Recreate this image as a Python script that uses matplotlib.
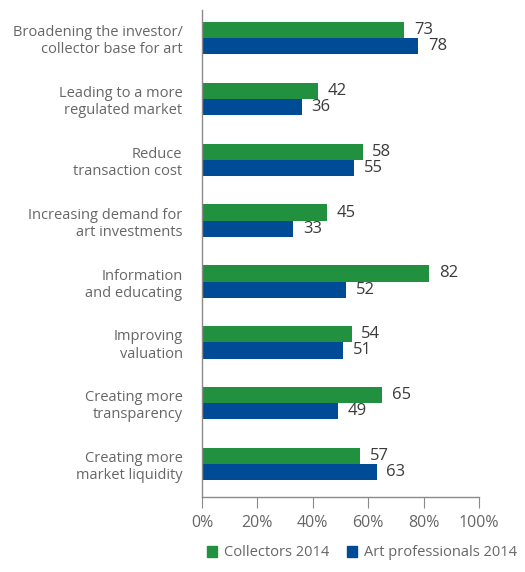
import numpy as np
import matplotlib
matplotlib.use("Agg")
import matplotlib.pyplot as plt
from matplotlib.patches import Patch

plt.rcParams.update({"font.family": ["Open Sans", "DejaVu Sans"], "font.size": 10.5})

categories = ["Broadening the investor/\ncollector base for art",
              "Leading to a more\nregulated market",
              "Reduce\ntransaction cost",
              "Increasing demand for\nart investments",
              "Information\nand educating",
              "Improving\nvaluation",
              "Creating more\ntransparency",
              "Creating more\nmarket liquidity"]
collectors = [73, 42, 58, 45, 82, 54, 65, 57]
professionals = [78, 36, 55, 33, 52, 51, 49, 63]
xticks = [0, 20, 40, 60, 80, 100]
xticklabels = ["0%", "20%", "40%", "60%", "80%", "100%"]

GREEN, BLUE = "#21913F", "#004B96"
GRAY_TXT, DARK_TXT, AXIS = "#666666", "#3a3a3a", "#8a8a8a"

fig = plt.figure(figsize=(5.25, 5.72), dpi=100)
ax = fig.add_axes([202/525, 75/572, 277/525, 487/572])

y = np.arange(len(categories))
h = 0.265
b1 = ax.barh(y - h/2, collectors, h, color=GREEN)
b2 = ax.barh(y + h/2, professionals, h, color=BLUE)
ax.bar_label(b1, padding=7, color=DARK_TXT, fontsize=12)
ax.bar_label(b2, padding=7, color=DARK_TXT, fontsize=12)

ax.set_xlim(0, 100)
ax.set_ylim(len(categories) - 0.46, -0.46)
ax.set_yticks(y)
ax.set_yticklabels(categories, color=GRAY_TXT, ha="right", multialignment="right")
ax.tick_params(axis="y", length=0, pad=14)
ax.set_xticks(xticks)
ax.set_xticklabels(xticklabels, color=GRAY_TXT, fontsize=11.5)
ax.tick_params(axis="x", length=8, color=AXIS, pad=5, direction="out")
for s in ["top", "right"]:
    ax.spines[s].set_visible(False)
for s in ["left", "bottom"]:
    ax.spines[s].set_color(AXIS)
    ax.spines[s].set_linewidth(1.0)

handles = [Patch(color=GREEN, label="Collectors 2014"),
           Patch(color=BLUE, label="Art professionals 2014")]
leg = fig.legend(handles=handles, loc="center", bbox_to_anchor=(362/525, 1 - 553/572),
                 ncol=2, frameon=False, handlelength=0.7, handleheight=0.7,
                 handletextpad=0.5, columnspacing=1.2, fontsize=10.5)
for t in leg.get_texts():
    t.set_color(GRAY_TXT)

fig.savefig("out.png", dpi=100)
